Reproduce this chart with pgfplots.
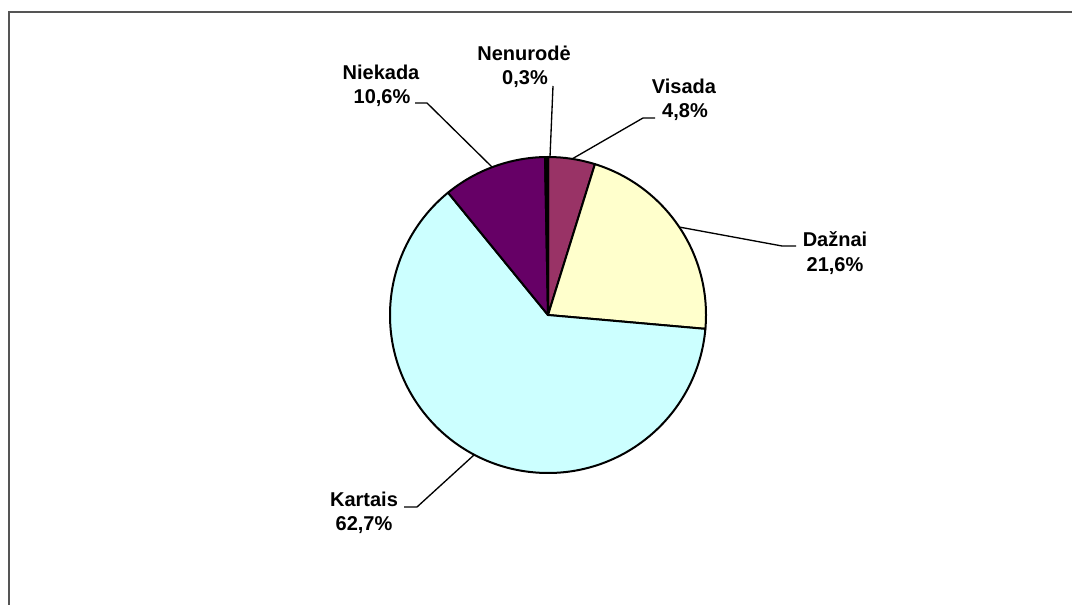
\documentclass[border=0pt]{standalone}
\usepackage{pgfplots}
\usepackage{pgfplotstable}
\pgfplotsset{compat=1.18}
\usepackage{fontspec}
\setmainfont{Liberation Sans}
\definecolor{cVisada}{HTML}{993366}
\definecolor{cDaznai}{HTML}{FFFFCC}
\definecolor{cKartais}{HTML}{CCFFFF}
\definecolor{cNiekada}{HTML}{660066}
\definecolor{cNenurode}{HTML}{000000}
\definecolor{frame}{HTML}{555555}

\pgfplotstableread{
name value
Visada 4.8
Daznai 21.6
Kartais 62.7
Niekada 10.6
Nenurode 0.3
}\piedata

\begin{document}
\begin{tikzpicture}
\pgfplotstablegetelem{0}{value}\of\piedata \let\vA\pgfplotsretval
\pgfplotstablegetelem{1}{value}\of\piedata \let\vB\pgfplotsretval
\pgfplotstablegetelem{2}{value}\of\piedata \let\vC\pgfplotsretval
\pgfplotstablegetelem{3}{value}\of\piedata \let\vD\pgfplotsretval
\pgfplotstablegetelem{4}{value}\of\piedata \let\vE\pgfplotsretval
\pgfmathsetmacro\aA{90}
\pgfmathsetmacro\aB{\aA-3.6*\vA}
\pgfmathsetmacro\aC{\aB-3.6*\vB}
\pgfmathsetmacro\aD{\aC-3.6*\vC}
\pgfmathsetmacro\aE{\aD-3.6*\vD}
\pgfmathsetmacro\aF{\aE-3.6*\vE}
\def\R{118.5pt}
\begin{axis}[x=0.75pt, y=0.75pt, xmin=0, xmax=1072, ymin=0, ymax=605,
  y dir=reverse, hide axis, clip=false]
\coordinate (tl) at (axis cs:0,0);
\coordinate (br) at (axis cs:1072,605);
% frame
\draw[frame, line width=1pt] (axis cs:9,605) -- (axis cs:9,12) -- (axis cs:1072,12);
% slices
\filldraw[fill=cVisada, draw=black, line width=1.5pt, line join=round]
  (axis cs:548,315) -- ++(\aA:\R) arc[start angle=\aA, end angle=\aB, radius=\R] -- cycle;
\filldraw[fill=cDaznai, draw=black, line width=1.5pt, line join=round]
  (axis cs:548,315) -- ++(\aB:\R) arc[start angle=\aB, end angle=\aC, radius=\R] -- cycle;
\filldraw[fill=cKartais, draw=black, line width=1.5pt, line join=round]
  (axis cs:548,315) -- ++(\aC:\R) arc[start angle=\aC, end angle=\aD, radius=\R] -- cycle;
\filldraw[fill=cNiekada, draw=black, line width=1.5pt, line join=round]
  (axis cs:548,315) -- ++(\aD:\R) arc[start angle=\aD, end angle=\aE, radius=\R] -- cycle;
\filldraw[fill=cNenurode, draw=black, line width=1.5pt, line join=round]
  (axis cs:548,315) -- ++(\aE:\R) arc[start angle=\aE, end angle=\aF, radius=\R] -- cycle;
% leader lines
\draw[black, line width=1pt] (axis cs:550,157) -- (axis cs:553,86);
\draw[black, line width=1pt] (axis cs:572,159) -- (axis cs:643,118) -- (axis cs:655,118);
\draw[black, line width=1pt] (axis cs:679,227) -- (axis cs:782,246) -- (axis cs:796,246);
\draw[black, line width=1pt] (axis cs:474,455) -- (axis cs:417,507) -- (axis cs:404,507);
\draw[black, line width=1pt] (axis cs:492,167) -- (axis cs:427,103) -- (axis cs:415,103);
% labels
\tikzset{lab/.style={anchor=base, inner sep=0pt, font=\fontsize{15}{18}\selectfont\bfseries}}
\node[lab] at (axis cs:524,61) {Nenurodė};
\node[lab] at (axis cs:525,85) {0,3\%};
\node[lab] at (axis cs:684,94) {Visada};
\node[lab] at (axis cs:685,118) {4,8\%};
\node[lab] at (axis cs:835,247) {Dažnai};
\node[lab] at (axis cs:835,272) {21,6\%};
\node[lab] at (axis cs:364,507) {Kartais};
\node[lab] at (axis cs:364,531) {62,7\%};
\node[lab] at (axis cs:381,80) {Niekada};
\node[lab] at (axis cs:382,104) {10,6\%};
\end{axis}
\pgfresetboundingbox
\path[use as bounding box] (tl) rectangle (br);
\end{tikzpicture}
\end{document}
